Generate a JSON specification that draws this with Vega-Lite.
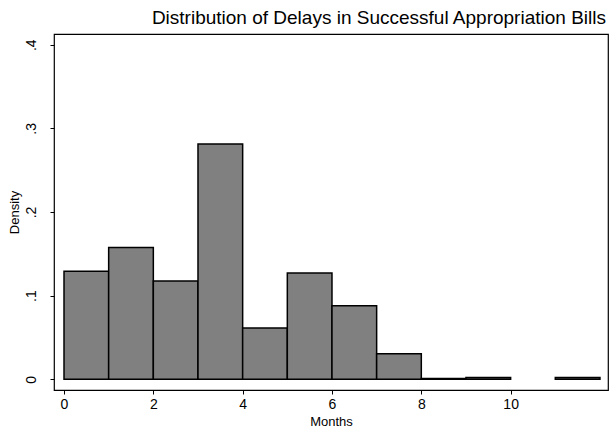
{
  "$schema": "https://vega.github.io/schema/vega-lite/v6.json",
  "width": 554,
  "height": 356,
  "autosize": {"type": "none"},
  "padding": {"left": 54, "top": 34, "right": 1, "bottom": 42},
  "background": "white",
  "title": {
    "text": "Distribution of Delays in Successful Appropriation Bills",
    "anchor": "end",
    "font": "Liberation Sans",
    "fontSize": 19,
    "fontWeight": "normal",
    "color": "black",
    "offset": 6,
    "dx": -2
  },
  "data": {
    "values": [
      {"start": 0, "end": 1, "density": 0.1293},
      {"start": 1, "end": 2, "density": 0.1577},
      {"start": 2, "end": 3, "density": 0.1174},
      {"start": 3, "end": 4, "density": 0.2814},
      {"start": 4, "end": 5, "density": 0.0613},
      {"start": 5, "end": 6, "density": 0.127},
      {"start": 6, "end": 7, "density": 0.088},
      {"start": 7, "end": 8, "density": 0.0305},
      {"start": 8, "end": 9, "density": 0.0008},
      {"start": 9, "end": 10, "density": 0.0022},
      {"start": 11, "end": 12, "density": 0.0022}
    ]
  },
  "mark": {"type": "rect", "fill": "#808080", "stroke": "black", "strokeWidth": 1.5},
  "encoding": {
    "x": {
      "field": "start",
      "type": "quantitative",
      "scale": {"domain": [-0.224, 12.18], "nice": false, "zero": false},
      "axis": {"values": [0, 2, 4, 6, 8, 10], "title": "Months", "labelPadding": 3, "titlePadding": 4}
    },
    "x2": {"field": "end"},
    "y": {
      "field": "density",
      "type": "quantitative",
      "scale": {"domain": [-0.0128, 0.4128], "nice": false, "zero": false},
      "axis": {
        "values": [0, 0.1, 0.2, 0.3, 0.4],
        "title": "Density",
        "labelExpr": "datum.value == 0 ? '0' : replace(format(datum.value, '.1f'), '0.', '.')",
        "labelAngle": -90,
        "labelAlign": "center",
        "labelBaseline": "bottom",
        "labelPadding": 12,
        "titlePadding": 3
      }
    },
    "y2": {"datum": 0}
  },
  "config": {
    "view": {"stroke": "black", "strokeWidth": 1.2},
    "axis": {
      "domain": false,
      "grid": false,
      "tickColor": "black",
      "tickSize": 4,
      "labelFont": "Liberation Sans",
      "labelFontSize": 14,
      "labelColor": "black",
      "titleFont": "Liberation Sans",
      "titleFontSize": 13,
      "titleFontWeight": "normal",
      "titleColor": "black"
    }
  }
}
